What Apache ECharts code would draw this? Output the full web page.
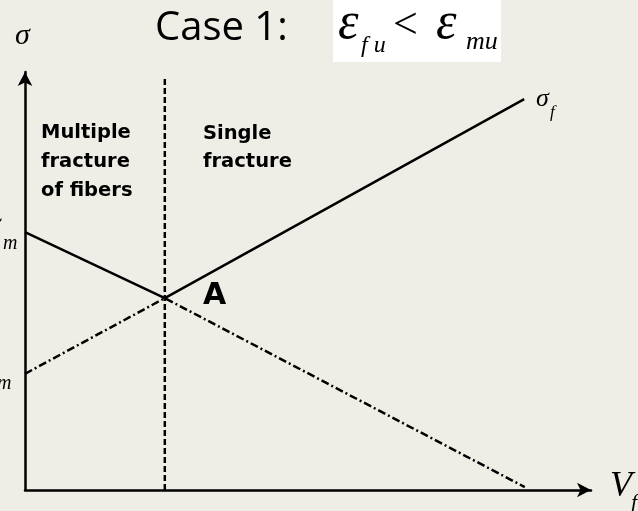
<!DOCTYPE html>
<html>
<head>
<meta charset="utf-8">
<script src="https://cdn.jsdelivr.net/npm/echarts@6/dist/echarts.min.js"></script>
<style>
  html, body { margin: 0; padding: 0; background: #efeee6; }
  #chart { width: 638px; height: 511px; }
</style>
</head>
<body>
<div id="chart"></div>
<script>
// composite strength vs fibre volume fraction (schematic, axes 0..1)
var vfComposite = [0, 0.247, 0.882];       // solid line, sigma_f branch
var sigmaComposite = [0.617, 0.459, 0.935];
var vfMatrix = [0, 0.247, 0.883];          // dash-dot line
var sigmaMatrix = [0.278, 0.459, 0.007];
var vfCritical = [0.247, 0.247];           // dashed boundary
var sigmaCritical = [0, 0.988];

var regionLeft = ['Multiple', 'fracture', 'of fibers'];
var regionRight = ['Single', 'fracture'];

function pairs(xs, ys) {
    return xs.map(function (x, i) { return [x, ys[i]]; });
}

var serif = '"Liberation Serif", "DejaVu Serif", serif';
var bold = '"DejaVu Sans", sans-serif';

var chart = echarts.init(document.getElementById('chart'), null, { renderer: 'canvas' });

var axisBase = {
    type: 'value',
    min: 0,
    max: 1,
    axisLine: {
        show: true,
        symbol: ['none', 'arrow'],
        symbolSize: [11, 14],
        lineStyle: { color: '#000', width: 2.5 }
    },
    axisTick: { show: false },
    axisLabel: { show: false },
    splitLine: { show: false }
};

var option = {
    backgroundColor: '#efeee6',
    animation: false,
    grid: { left: 25, right: 47, top: 72, bottom: 21 },
    xAxis: axisBase,
    yAxis: axisBase,
    series: [
        {
            type: 'line',
            data: pairs(vfComposite, sigmaComposite),
            symbol: 'none',
            lineStyle: { color: '#000', width: 2.5 }
        },
        {
            type: 'line',
            data: pairs(vfMatrix, sigmaMatrix),
            symbol: 'none',
            lineStyle: { color: '#000', width: 2.5, type: [8, 3, 2, 3] }
        },
        {
            type: 'line',
            data: pairs(vfCritical, sigmaCritical),
            symbol: 'none',
            lineStyle: { color: '#000', width: 2.5, type: [6, 3] }
        }
    ],
    graphic: [
        // title
        { type: 'text', left: 155, top: 9, style: { text: 'Case 1:', font: '40px "Open Sans", sans-serif', fill: '#000' } },
        { type: 'rect', shape: { x: 333, y: 0, width: 168, height: 62 }, style: { fill: '#fff' } },
        { type: 'text', x: 338, y: 50, style: { text: 'ε', font: 'italic 52px ' + serif, fill: '#000', textVerticalAlign: 'bottom' } },
        { type: 'text', x: 361, y: 58, style: { text: 'f u', font: 'italic 24px ' + serif, fill: '#000', textVerticalAlign: 'bottom' } },
        { type: 'text', x: 393, y: 48, style: { text: '<', font: '44px ' + serif, fill: '#000', textVerticalAlign: 'bottom' } },
        { type: 'text', x: 436, y: 50, style: { text: 'ε', font: 'italic 52px ' + serif, fill: '#000', textVerticalAlign: 'bottom' } },
        { type: 'text', x: 466, y: 55, style: { text: 'mu', font: 'italic 26px ' + serif, fill: '#000', textVerticalAlign: 'bottom' } },
        // axis names
        { type: 'text', x: 15, y: 51, style: { text: 'σ', font: 'italic 30px ' + serif, fill: '#000', textVerticalAlign: 'bottom' } },
        { type: 'text', x: 536, y: 112, style: { text: 'σ', font: 'italic 26px ' + serif, fill: '#000', textVerticalAlign: 'bottom' } },
        { type: 'text', x: 550, y: 121, style: { text: 'f', font: 'italic 17px ' + serif, fill: '#000', textVerticalAlign: 'bottom' } },
        { type: 'text', x: 610, y: 505, style: { text: 'V', font: 'italic 36px ' + serif, fill: '#000', textVerticalAlign: 'bottom' } },
        { type: 'text', x: 631, y: 514, style: { text: 'f', font: 'italic 22px ' + serif, fill: '#000', textVerticalAlign: 'bottom' } },
        // labels cut off at the left edge
        { type: 'text', x: -14, y: 241, style: { text: 'σ', font: 'italic 30px ' + serif, fill: '#000', textVerticalAlign: 'bottom' } },
        { type: 'text', x: 3, y: 254, style: { text: 'm', font: 'italic 20px ' + serif, fill: '#000', textVerticalAlign: 'bottom' } },
        { type: 'text', x: -19, y: 376, style: { text: 'σ', font: 'italic 30px ' + serif, fill: '#000', textVerticalAlign: 'bottom' } },
        { type: 'text', x: -3, y: 394, style: { text: 'm', font: 'italic 20px ' + serif, fill: '#000', textVerticalAlign: 'bottom' } },
        // region labels
        { type: 'text', left: 41, top: 118, style: { text: regionLeft.join('\n'), font: 'bold 19.5px ' + bold, lineHeight: 29, fill: '#000' } },
        { type: 'text', left: 203, top: 120, style: { text: regionRight.join('\n'), font: 'bold 19.5px ' + bold, lineHeight: 28, fill: '#000' } },
        { type: 'text', left: 203, top: 281, style: { text: 'A', font: 'bold 30px ' + bold, fill: '#000' } }
    ]
};

chart.setOption(option);
</script>
</body>
</html>
